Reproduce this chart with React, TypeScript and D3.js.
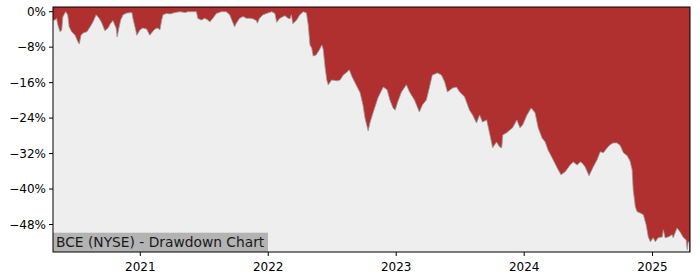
import React from "react";
import * as d3 from "d3";

const dates: string[] = [
  "2020-04-27","2020-05-03","2020-05-07","2020-05-11","2020-05-17","2020-05-22","2020-05-25","2020-06-02","2020-06-08","2020-06-12",
  "2020-06-19","2020-06-29","2020-07-07","2020-07-11","2020-07-16","2020-07-22","2020-08-02","2020-08-11","2020-08-19","2020-08-28",
  "2020-09-05","2020-09-13","2020-09-22","2020-10-01","2020-10-07","2020-10-15","2020-10-24","2020-10-27","2020-11-01","2020-11-06",
  "2020-11-13","2020-11-24","2020-12-08","2020-12-11","2020-12-20","2020-12-22","2020-12-31","2021-01-08","2021-01-19","2021-01-28",
  "2021-02-05","2021-02-12","2021-02-20","2021-02-26","2021-03-03","2021-03-07","2021-03-17","2021-03-27","2021-04-10","2021-04-24",
  "2021-05-09","2021-05-17","2021-05-31","2021-06-10","2021-06-14","2021-06-24","2021-07-04","2021-07-13","2021-07-18","2021-07-27",
  "2021-08-06","2021-08-20","2021-09-03","2021-09-13","2021-09-19","2021-09-27","2021-10-02","2021-10-11","2021-10-21","2021-10-31",
  "2021-11-09","2021-11-18","2021-11-28","2021-12-01","2021-12-07","2021-12-17","2021-12-27","2022-01-11","2022-01-20","2022-01-25",
  "2022-02-03","2022-02-17","2022-02-27","2022-03-04","2022-03-08","2022-03-12","2022-03-23","2022-04-01","2022-04-11","2022-04-20",
  "2022-04-25","2022-04-30","2022-05-05","2022-05-09","2022-05-17","2022-05-27","2022-06-03","2022-06-07","2022-06-12","2022-06-17",
  "2022-06-21","2022-07-01","2022-07-16","2022-07-25","2022-08-03","2022-08-14","2022-08-20","2022-08-28","2022-09-06","2022-09-20",
  "2022-09-28","2022-10-04","2022-10-13","2022-10-18","2022-10-27","2022-11-10","2022-11-25","2022-12-06","2022-12-14","2022-12-23",
  "2022-12-29","2023-01-05","2023-01-16","2023-01-30","2023-02-08","2023-02-22","2023-03-08","2023-03-17","2023-03-28","2023-04-06",
  "2023-04-14","2023-04-29","2023-05-10","2023-05-19","2023-05-27","2023-06-11","2023-06-22","2023-07-01","2023-07-15","2023-07-29",
  "2023-08-07","2023-08-18","2023-08-27","2023-09-04","2023-09-16","2023-09-24","2023-10-03","2023-10-14","2023-10-23","2023-10-29",
  "2023-11-01","2023-11-12","2023-11-21","2023-11-29","2023-12-11","2023-12-20","2023-12-28","2024-01-09","2024-01-21","2024-02-01",
  "2024-02-10","2024-02-21","2024-03-01","2024-03-09","2024-03-21","2024-04-04","2024-04-15","2024-04-27","2024-05-11","2024-05-20",
  "2024-05-31","2024-06-09","2024-06-14","2024-06-23","2024-07-04","2024-07-16","2024-07-27","2024-08-05","2024-08-14","2024-08-25",
  "2024-09-02","2024-09-11","2024-09-22","2024-10-01","2024-10-10","2024-10-21","2024-10-29","2024-11-04","2024-11-07","2024-11-13",
  "2024-11-18","2024-11-27","2024-12-06","2024-12-14","2024-12-20","2024-12-26","2025-01-03","2025-01-09","2025-01-17","2025-01-29",
  "2025-02-01","2025-02-06","2025-02-15","2025-02-26","2025-03-01","2025-03-12","2025-03-21","2025-03-29","2025-04-07","2025-04-10",
  "2025-04-13","2025-04-16"
];

const drawdown: number[] = [
  -1.9,-1.9,-1.5,-3.0,-4.5,-4.1,-1.2,0,-0.7,-3.4,
  -4.5,-5.3,-6.8,-7.3,-5.3,-4.8,-4.5,-3.4,-2.3,-0.7,
  -1.4,-2.5,-4.3,-3.7,-2.8,-2.0,-3.7,-5.7,-3.7,-1.9,
  -0.7,-0.3,-0.2,-1.5,-4.5,-5.3,-4.1,-3.7,-3.9,-5.3,
  -4.5,-3.9,-3.7,-4.1,-1.9,-0.7,-0.4,-0.5,-0.2,0,
  -0.2,0,0,0,-1.5,-1.9,-1.5,-1.9,-2.3,-1.5,
  -0.4,0,0,-0.7,-1.9,-3.4,-2.6,-1.5,-1.1,-1.5,
  -1.5,-1.6,-2.0,-2.6,-1.5,-0.7,-0.4,0,-0.4,-2.4,
  -1.5,-0.9,-1.5,-1.6,-0.7,-2.7,-1.9,-0.7,0,-0.3,
  -3.0,-7.5,-8.2,-10.0,-9.8,-8.6,-7.5,-8.6,-12.5,-15.4,
  -16.5,-15.4,-15.6,-15.4,-14.3,-13.6,-13.1,-14.7,-16.1,-18.3,
  -21.0,-24.0,-26.9,-25.1,-22.8,-19.4,-17.0,-17.6,-19.9,-21.7,
  -22.2,-20.4,-18.1,-16.5,-18.1,-19.9,-22.6,-21.0,-19.9,-17.0,
  -14.3,-13.8,-14.3,-15.8,-18.1,-17.2,-17.0,-18.1,-19.2,-22.2,
  -23.3,-25.1,-23.3,-24.9,-24.4,-27.3,-30.7,-29.4,-30.5,-30.7,
  -27.8,-27.3,-26.7,-26.2,-24.4,-26.2,-25.5,-23.3,-21.7,-22.8,
  -26.2,-28.5,-29.4,-31.2,-33.0,-35.2,-36.8,-36.1,-34.6,-33.9,
  -34.6,-33.9,-34.1,-35.0,-37.0,-35.0,-33.4,-31.6,-31.8,-30.7,
  -30.0,-29.6,-29.6,-30.2,-31.8,-32.5,-33.7,-35.7,-40.2,-44.0,
  -45.1,-45.4,-45.8,-48.1,-50.8,-51.9,-51.0,-51.9,-51.0,-50.8,
  -49.2,-51.0,-50.8,-50.3,-51.0,-48.8,-49.7,-50.8,-51.5,-53.7,
  -51.9,-52.1
];

const yTicks: number[] = [0, -8, -16, -24, -32, -40, -48];
const xTickYears: number[] = [2021, 2022, 2023, 2024, 2025];
const title = "BCE (NYSE) - Drawdown Chart";

const W = 700, H = 280;
const left = 53, right = 690, top = 7, bottom = 252;

export default function App() {
  const parse = d3.timeParse("%Y-%m-%d");
  const pts = dates.map((d, i) => ({ date: parse(d) as Date, v: drawdown[i] }));
  const x = d3.scaleTime()
    .domain([parse("2020-04-27") as Date, parse("2025-04-18") as Date])
    .range([left, right]);
  const y = d3.scaleLinear().domain([1.06, -54.2]).range([top, bottom]);

  const area = d3.area<{ date: Date; v: number }>()
    .x(p => x(p.date))
    .y0(bottom)
    .y1(p => y(p.v));
  const line = d3.line<{ date: Date; v: number }>()
    .x(p => x(p.date))
    .y(p => y(p.v));

  const fmt = (v: number) => (v < 0 ? "\u2212" + Math.abs(v) : String(v)) + "%";
  const font = "DejaVu Sans, sans-serif";

  return (
    <svg width={W} height={H} style={{ position: "absolute", left: 0, top: 0, background: "#fff" }}>
      <defs>
        <clipPath id="plot">
          <rect x={left} y={top} width={right - left} height={bottom - top} />
        </clipPath>
      </defs>
      <rect x={left} y={top} width={right - left} height={bottom - top} fill="#b03030" />
      <g clipPath="url(#plot)">
        <path d={area(pts) || ""} fill="#eeeeee" />
        <path d={line(pts) || ""} fill="none" stroke="#9a9a9a" strokeWidth={0.8} />
      </g>
      <rect x={left} y={232.7} width={268 - left} height={bottom - 232.7} fill="#b3b3b3" />
      <text x={56} y={247} fontFamily={font} fontSize={13.8} fill="#1a1a1a">{title}</text>
      <rect x={left} y={top} width={right - left} height={bottom - top} fill="none" stroke="#000" strokeWidth={1} />
      {yTicks.map(t => (
        <g key={t}>
          <line x1={left - 4} x2={left} y1={y(t)} y2={y(t)} stroke="#000" />
          <text x={left - 7} y={y(t)} dy="0.36em" textAnchor="end" fontFamily={font} fontSize={12} fill="#000">{fmt(t)}</text>
        </g>
      ))}
      {xTickYears.map(yr => {
        const px = x(new Date(yr, 0, 1));
        return (
          <g key={yr}>
            <line x1={px} x2={px} y1={bottom} y2={bottom + 4} stroke="#000" />
            <text x={px} y={271} textAnchor="middle" fontFamily={font} fontSize={12} fill="#000">{yr}</text>
          </g>
        );
      })}
    </svg>
  );
}
